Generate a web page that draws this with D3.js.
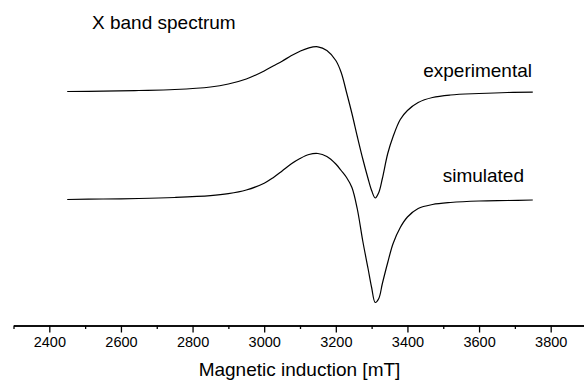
<!DOCTYPE html>
<html>
<head>
<meta charset="utf-8">
<script src="https://cdn.jsdelivr.net/npm/d3@7"></script>
<style>
  html, body { margin: 0; padding: 0; background: #fff; }
  svg text { font-family: "Liberation Sans", Arial, sans-serif; fill: #000; }
  .axis path, .axis line { stroke: #000; stroke-width: 1.3; }
  .axis text { font-size: 14.5px; }
  .spectrum { fill: none; stroke: #000; stroke-width: 1.2; }
</style>
</head>
<body>
<svg id="chart" width="584" height="385"></svg>
<script>
// EPR X band spectrum: experimental vs simulated (arbitrary intensity units, baseline = 0)
const field = [2450, 2550, 2650, 2750, 2850, 2900, 2950, 3000, 3025, 3050, 3075, 3100, 3125, 3150, 3175, 3200,
  3215, 3230, 3245, 3260, 3275, 3290, 3300, 3310, 3320, 3330, 3345, 3360, 3380, 3400,
  3430, 3470, 3520, 3600, 3680, 3750];
const experimental = [0, 0.3, 1, 2, 4.5, 7.5, 12.5, 20.5, 25.5, 30.3, 35.7, 40.3, 43.7, 44.7, 41, 31,
  19, -1, -22, -45, -67, -87, -99, -106.5, -101, -87, -62, -45, -28, -19,
  -11, -6, -3.5, -2, -1, -0.7];
const simulated = [0.5, 1, 1.5, 2.5, 4.3, 6.3, 10, 16.8, 22.3, 29, 36, 41.5, 45.5, 46.5, 43.5, 36,
  29.5, 22.5, 12.5, -9, -40.5, -68.5, -87.5, -102.5, -98.5, -83.5, -62.5, -43.5, -27.5, -17,
  -8.5, -4.5, -2.5, -1, -0.5, 0];
const majorTicks = [2400, 2600, 2800, 3000, 3200, 3400, 3600, 3800];
const minorTicks = [2300, 2500, 2700, 2900, 3100, 3300, 3500, 3700, 3900];

// vertical offsets so the two traces are stacked
const expOffset = 234;
const simOffset = 125.5;

const svg = d3.select("#chart");

const x = d3.scaleLinear().domain([2300, 3900]).range([13.5, 586.5]);
const y = d3.scaleLinear().domain([0, 300]).range([325.5, 25.5]);

// Axes
svg.append("g")
  .attr("class", "axis")
  .attr("transform", "translate(0,325.5)")
  .call(d3.axisBottom(x).tickValues(minorTicks).tickSize(3.5).tickSizeOuter(0).tickFormat(""));

const major = svg.append("g")
  .attr("class", "axis")
  .attr("transform", "translate(0,325.5)")
  .call(d3.axisBottom(x).tickValues(majorTicks).tickSize(7).tickSizeOuter(0).tickFormat(d3.format("d")));
major.selectAll("text").attr("y", 11).attr("dy", "0.71em");

svg.append("text")
  .attr("x", x(3100) - 0.5)
  .attr("y", 376)
  .attr("text-anchor", "middle")
  .style("font-size", "19px")
  .text("Magnetic induction [mT]");

// Spectra
const line = offset => d3.line()
  .x((d, i) => x(field[i]))
  .y(d => y(d + offset))
  .curve(d3.curveCatmullRom.alpha(0.5));

svg.append("path").datum(experimental).attr("class", "spectrum").attr("d", line(expOffset));
svg.append("path").datum(simulated).attr("class", "spectrum").attr("d", line(simOffset));

// Labels
svg.append("text").attr("x", 92).attr("y", 29).style("font-size", "19px").text("X band spectrum");
svg.append("text").attr("x", 532).attr("y", 77).attr("text-anchor", "end").style("font-size", "19px").text("experimental");
svg.append("text").attr("x", 524).attr("y", 182).attr("text-anchor", "end").style("font-size", "19px").text("simulated");
</script>
</body>
</html>
